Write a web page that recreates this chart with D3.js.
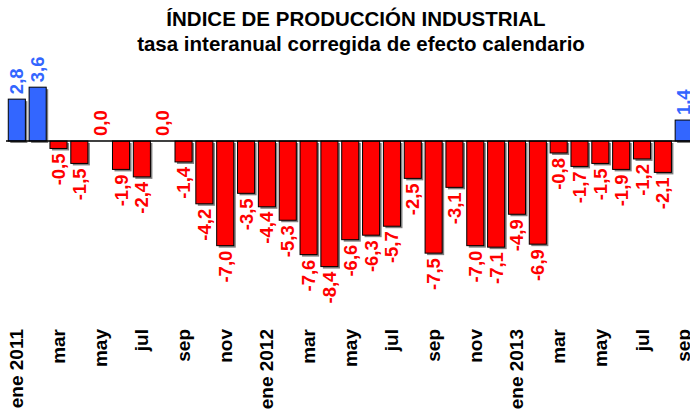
<!DOCTYPE html>
<html>
<head>
<meta charset="utf-8">
<script src="https://cdn.jsdelivr.net/npm/d3@7"></script>
<style>
  body { margin:0; background:#fff; }
  text { font-family: "Liberation Sans", Arial, sans-serif; font-weight: bold; }
</style>
</head>
<body>
<div id="chart-area"></div>
<script>
const months = ['ene 2011','feb','mar','abr','may','jun','jul','ago','sep','oct','nov','dic',
                'ene 2012','feb','mar','abr','may','jun','jul','ago','sep','oct','nov','dic',
                'ene 2013','feb','mar','abr','may','jun','jul','ago','sep'];

const values = [2.8, 3.6, -0.5, -1.5, 0.0, -1.9, -2.4, 0.0, -1.4, -4.2, -7.0, -3.5,
                -4.4, -5.3, -7.6, -8.4, -6.6, -6.3, -5.7, -2.5, -7.5, -3.1, -7.0, -7.1,
                -4.9, -6.9, -0.8, -1.7, -1.5, -1.9, -1.2, -2.1, 1.4];

const titles = ['ÍNDICE DE PRODUCCIÓN INDUSTRIAL', 'tasa interanual corregida de efecto calendario'];

const width = 690, height = 412;
const blue = '#3366FF', red = '#FF0000';

var data = months.map((m,i) => ({i:i, month:m, value:values[i]}));

var svg = d3.select('#chart-area').append('svg')
    .attr('width', width)
    .attr('height', height);

// titles
svg.selectAll('.title')
    .data(titles)
    .enter()
    .append('text')
    .attr('class','title')
    .attr('x', (d,i) => i ? 361 : 356)
    .attr('y', (d,i) => 26 + i*25)
    .attr('text-anchor','middle')
    .style('font-size','20.5px')
    .text(d => d);

var x = d3.scaleBand()
    .domain(d3.range(months.length))
    .range([6.4, 6.4 + 20.84*months.length])
    .paddingInner(0.18)
    .paddingOuter(0.09);

var y = d3.scaleLinear()
    .domain([-10, 4])
    .range([141 + 10*14.95, 141 - 4*14.95]);

var bars = svg.append('g');

// shadows
bars.selectAll('.shadow')
    .data(data.filter(d => d.value !== 0))
    .enter()
    .append('rect')
    .attr('x', d => x(d.i) + 2)
    .attr('y', d => Math.min(y(d.value), y(0)) + 2)
    .attr('width', x.bandwidth())
    .attr('height', d => Math.abs(y(d.value) - y(0)))
    .attr('fill', '#808080');

bars.selectAll('.bar')
    .data(data.filter(d => d.value !== 0))
    .enter()
    .append('rect')
    .attr('x', d => x(d.i))
    .attr('y', d => Math.min(y(d.value), y(0)))
    .attr('width', x.bandwidth())
    .attr('height', d => Math.abs(y(d.value) - y(0)))
    .attr('fill', d => d.value > 0 ? blue : red)
    .attr('stroke', '#000')
    .attr('stroke-width', 1);

// zero line
svg.append('line')
    .attr('x1', 6).attr('x2', width)
    .attr('y1', y(0)).attr('y2', y(0))
    .attr('stroke', '#000')
    .attr('stroke-width', 1.5);

// value labels
var fmt = v => v.toFixed(1).replace('.', ',');
svg.append('g').selectAll('text')
    .data(data)
    .enter()
    .append('text')
    .attr('transform', d => {
      var cx = x(d.i) + x.bandwidth()/2 + 6.5;
      var yy = d.value >= 0 ? y(d.value) - 5 : y(d.value) + 5;
      return 'translate(' + cx + ',' + yy + ') rotate(-90)';
    })
    .attr('text-anchor', d => d.value >= 0 ? 'start' : 'end')
    .attr('fill', d => d.value > 0 ? blue : red)
    .style('font-size','18.5px')
    .text(d => fmt(d.value));

// month labels
svg.append('g').selectAll('text')
    .data(data.filter(d => d.i % 2 === 0))
    .enter()
    .append('text')
    .attr('transform', d => 'translate(' + (x(d.i) + x.bandwidth()/2 + 6.5) + ',329) rotate(-90)')
    .attr('text-anchor','end')
    .style('font-size','19px')
    .text(d => d.month);
</script>
</body>
</html>
